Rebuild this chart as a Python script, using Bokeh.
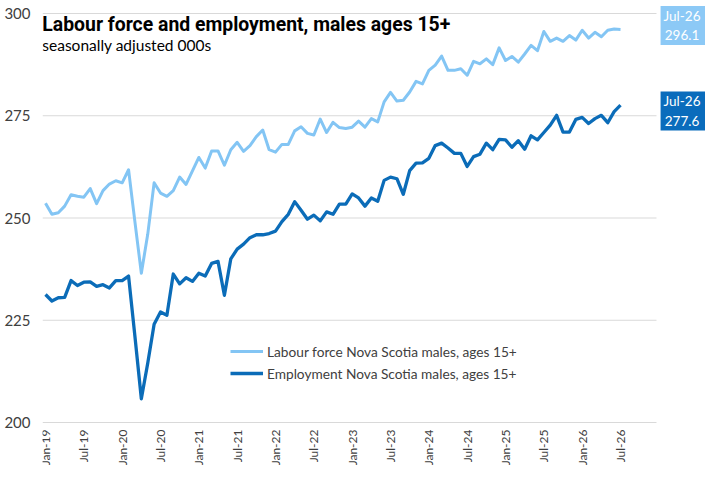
import math
from bokeh.plotting import figure
from bokeh.models import (ColumnDataSource, Range1d, FixedTicker, Label, Legend, LegendItem)
from bokeh.embed import file_html
from bokeh.resources import INLINE

# ---- data ----
tick_labels = ["Jan-19", "Jul-19", "Jan-20", "Jul-20", "Jan-21", "Jul-21", "Jan-22", "Jul-22",
               "Jan-23", "Jul-23", "Jan-24", "Jul-24", "Jan-25", "Jul-25", "Jan-26", "Jul-26"]
tick_positions = [i * 6 for i in range(len(tick_labels))]   # month index of each tick

y_ticks = [200, 225, 250, 275, 300]

labour_force = [253.6, 250.9, 251.3, 252.9, 255.7, 255.3, 255.1, 257.2, 253.5, 256.7, 258.3, 259.1,
                258.6, 261.8, 249.0, 236.5, 246.0, 258.6, 256.1, 255.3, 256.7, 260.0, 258.2, 261.5,
                264.8, 262.2, 266.4, 266.4, 262.9, 266.7, 268.5, 266.3, 267.7, 269.9, 271.5, 266.7,
                266.1, 268.0, 268.0, 271.3, 272.3, 270.7, 270.3, 274.2, 270.9, 273.4, 272.1, 271.9,
                272.2, 273.7, 272.2, 274.3, 273.5, 278.4, 280.7, 278.6, 278.8, 280.8, 283.4, 282.8,
                286.1, 287.4, 289.6, 286.1, 286.1, 286.5, 284.9, 288.3, 287.7, 288.9, 287.5, 291.6,
                288.5, 289.5, 288.1, 290.1, 292.2, 290.9, 295.6, 293.2, 294.0, 293.2, 294.6, 293.5,
                295.9, 294.0, 295.4, 294.3, 295.9, 296.2, 296.1]

employment = [231.3, 229.7, 230.5, 230.6, 234.7, 233.5, 234.3, 234.4, 233.3, 233.7, 232.9, 234.7,
              234.7, 235.8, 221.0, 205.8, 214.5, 224.0, 227.0, 226.2, 236.3, 233.9, 235.4, 234.5,
              236.5, 235.8, 238.9, 239.4, 231.1, 240.0, 242.4, 243.6, 245.2, 245.9, 245.9, 246.2,
              246.8, 249.1, 250.9, 254.0, 251.9, 249.7, 250.7, 249.3, 251.5, 250.9, 253.4, 253.4,
              255.9, 254.9, 252.9, 254.9, 254.1, 259.2, 260.0, 259.6, 255.8, 261.6, 263.4, 263.5,
              264.6, 267.7, 268.3, 267.1, 265.8, 265.8, 262.6, 265.0, 265.6, 268.3, 266.7, 269.2,
              269.1, 267.3, 268.9, 266.8, 270.1, 269.1, 270.9, 272.7, 275.1, 271.0, 271.0, 274.1,
              274.6, 273.1, 274.3, 275.1, 273.3, 276.0, 277.6]

series_names = ["Labour force Nova Scotia males, ages 15+", "Employment Nova Scotia males, ages 15+"]
last_label = "Jul-26"

LIGHT = "#83C5F4"
DARK = "#0B6CB8"
LIGHT_BOX = "#8CC9F6"
DARK_BOX = "#0A6CBC"
FONT = "Lato"
TXT = "#404040"

# ---- scales (frame extends above 300 and below 200 to host labels) ----
PX_PER_UNIT = 409 / 100.0
X0, XG, X1 = -0.47, 95.63, 103.30        # frame start, gridline end, frame end (months)
Y0 = 200 - 43 / PX_PER_UNIT              # frame bottom, 43 px under the 200 line
Y1 = 300 + 13 / PX_PER_UNIT              # frame top, 13 px above the 300 line
Y_LBL = 200 - 7 / PX_PER_UNIT            # top of the rotated month labels

months = list(range(len(labour_force)))
src = ColumnDataSource(dict(x=months, lf=labour_force, emp=employment))

p = figure(width=705, height=465, output_backend="svg", toolbar_location=None,
           x_range=Range1d(X0, X1), y_range=Range1d(Y0, Y1),
           min_border_left=42, min_border_right=0, min_border_top=0, min_border_bottom=0)
p.outline_line_color = None
p.background_fill_color = "white"
p.border_fill_color = "white"
p.xaxis.visible = False

p.yaxis.ticker = FixedTicker(ticks=y_ticks)
p.yaxis.axis_line_color = None
p.yaxis.major_tick_line_color = None
p.yaxis.minor_tick_line_color = None
p.yaxis.major_tick_out = 0
p.yaxis.major_tick_in = 0
p.yaxis.minor_tick_out = 0
p.yaxis.major_label_standoff = 12
p.yaxis.major_label_text_font = FONT
p.yaxis.major_label_text_font_size = "15px"
p.yaxis.major_label_text_color = TXT

p.xgrid.grid_line_color = None
p.ygrid.grid_line_color = None

# horizontal gridlines that stop before the end-value labels
p.segment(x0=[X0] * len(y_ticks), x1=[XG] * len(y_ticks), y0=y_ticks, y1=y_ticks,
          line_color="#D9D9D9", line_width=1)

# rotated month labels under the plot
tick_src = ColumnDataSource(dict(x=tick_positions, y=[Y_LBL] * len(tick_positions), t=tick_labels))
p.text(x="x", y="y", text="t", source=tick_src, angle=math.pi / 2,
       text_align="right", text_baseline="middle",
       text_font={"value": FONT}, text_font_size="12px", text_color=TXT)

r1 = p.line("x", "lf", source=src, color=LIGHT, line_width=3, line_join="round")
r2 = p.line("x", "emp", source=src, color=DARK, line_width=3.3, line_join="round")

legend = Legend(items=[LegendItem(label=series_names[0], renderers=[r1]),
                       LegendItem(label=series_names[1], renderers=[r2])],
                location=(188, 39 + 43), padding=0, margin=0, spacing=2,
                glyph_width=33, glyph_height=20, label_height=20, label_standoff=4,
                border_line_color=None, background_fill_alpha=0,
                label_text_font=FONT, label_text_font_size="13.7px", label_text_color=TXT)
p.add_layout(legend)

# title / subtitle
p.add_layout(Label(x=-0.5, y=297.3, text="Labour force and employment, males ages 15+",
                   text_font="Roboto", text_font_style="bold", text_font_size="19.4px",
                   text_color="#000000", text_baseline="middle"))
p.add_layout(Label(x=-0.5, y=292.4, text="seasonally adjusted 000s",
                   text_font=FONT, text_font_size="15.5px",
                   text_color="#000000", text_baseline="middle"))

# end-value labels
for val, col, off in [(labour_force[-1], LIGHT_BOX, 0.97), (employment[-1], DARK_BOX, -1.44)]:
    p.add_layout(Label(x=99.86, y=val + off, text=f"{last_label}\n{val:.1f}",
                       text_font=FONT, text_font_size="13.5px", text_color="white",
                       text_align="center", text_baseline="middle",
                       background_fill_color=col,
                       padding=dict(left=3, right=6, top=2, bottom=2)))

open("out.html", "w").write(file_html(p, INLINE))
